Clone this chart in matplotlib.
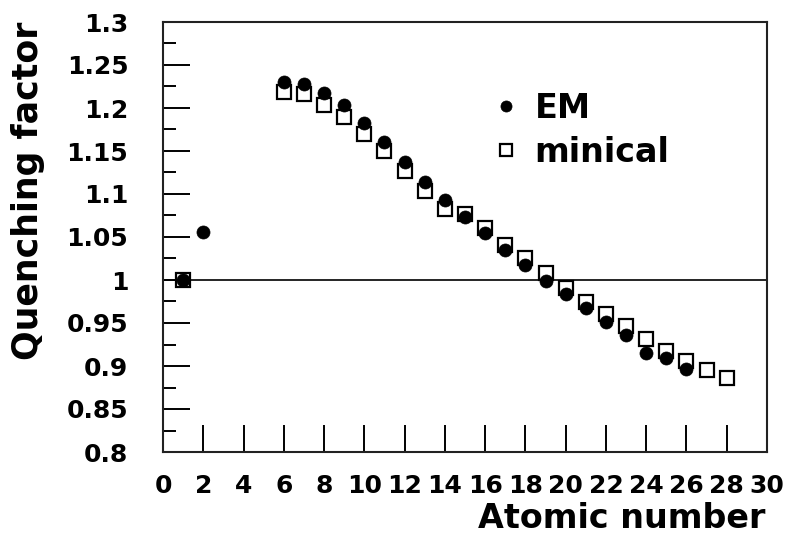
import matplotlib
matplotlib.use("Agg")
import matplotlib.pyplot as plt
import numpy as np

# ---- data ----
em_z = [1, 2, 6, 7, 8, 9, 10, 11, 12, 13, 14, 15, 16, 17, 18, 19, 20, 21, 22, 23, 24, 25, 26]
em_q = [1.000, 1.056, 1.230, 1.228, 1.218, 1.203, 1.183, 1.161, 1.137, 1.114, 1.093,
        1.073, 1.055, 1.035, 1.017, 0.999, 0.984, 0.968, 0.951, 0.936, 0.915, 0.909, 0.897]

mini_z = [1, 6, 7, 8, 9, 10, 11, 12, 13, 14, 15, 16, 17, 18, 19, 20, 21, 22, 23, 24, 25, 26, 27, 28]
mini_q = [1.000, 1.219, 1.216, 1.204, 1.190, 1.170, 1.150, 1.127, 1.104, 1.082, 1.077,
          1.060, 1.041, 1.026, 1.008, 0.991, 0.975, 0.960, 0.946, 0.931, 0.918, 0.906,
          0.895, 0.886]

x_ticks = list(range(0, 31, 2))
y_ticks = [0.8, 0.85, 0.9, 0.95, 1.0, 1.05, 1.1, 1.15, 1.2, 1.25, 1.3]
y_ticklabels = ["0.8", "0.85", "0.9", "0.95", "1", "1.05", "1.1", "1.15", "1.2", "1.25", "1.3"]

plt.rcParams['font.family'] = ['DejaVu Sans']
plt.rcParams['font.weight'] = 'bold'

fig = plt.figure(figsize=(7.9, 5.56), dpi=100)
ax = fig.add_axes([163/790, 1-452/556, (767-163)/790, (452-22)/556])

ax.set_xlim(0, 30)
ax.set_ylim(0.8, 1.3)

ax.axhline(1.0, color='black', lw=1.2, zorder=1)

ax.plot(mini_z, mini_q, linestyle='none', marker='s', markersize=9.6,
        markerfacecolor='none', markeredgecolor='black', markeredgewidth=1.6,
        label='minical', zorder=3)
ax.plot(em_z, em_q, linestyle='none', marker='o', markersize=9.4,
        markerfacecolor='black', markeredgecolor='black', markeredgewidth=0.5,
        label='EM', zorder=4)

for s in ax.spines.values():
    s.set_linewidth(1.5)
    s.set_color('#222222')

ax.set_xticks(x_ticks)
ax.set_xticklabels([str(v) for v in x_ticks])
ax.set_yticks(y_ticks)
ax.set_yticklabels(y_ticklabels)
ax.set_yticks(np.arange(0.825, 1.3, 0.05), minor=True)
ax.tick_params(axis='both', which='major', direction='in', width=1.4, labelsize=18)
ax.tick_params(axis='x', which='major', length=19.4, pad=16, top=False)
ax.tick_params(axis='y', which='major', length=19.4, pad=25, right=False)
ax.tick_params(axis='y', which='minor', direction='in', length=9.4, width=1.4, right=False)
ax.tick_params(axis='x', which='minor', bottom=False, top=False)

handles, labels = ax.get_legend_handles_labels()
order = [1, 0]
leg = ax.legend([handles[i] for i in order], [labels[i] for i in order],
                loc='upper left', bbox_to_anchor=(493/790, 1-92/556),
                bbox_transform=fig.transFigure, frameon=False,
                fontsize=24, markerscale=0.85, handlelength=0.8,
                handletextpad=0.45, labelspacing=0.33, borderpad=0, borderaxespad=0)
for t in leg.get_texts():
    t.set_fontweight('bold')

fig.text(765/790, 1-528/556, "Atomic number", ha='right', va='baseline',
         fontsize=24, fontweight='bold')
fig.text(28/790, 1-191/556, "Quenching factor", ha='center', va='center',
         rotation=90, fontsize=25, fontweight='bold')

fig.savefig("out.png", dpi=100)
